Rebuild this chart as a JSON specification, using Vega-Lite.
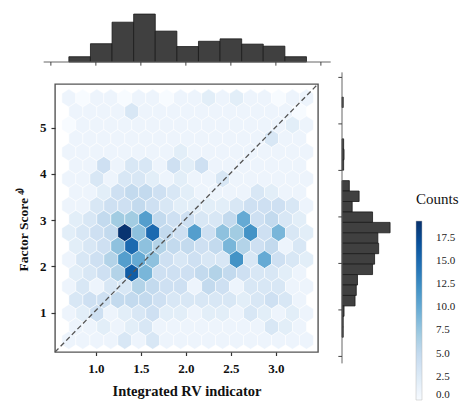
{
"$schema": "https://vega.github.io/schema/vega-lite/v6.json",
"autosize": {"type": "pad"},
"padding": {"left": 15, "top": 10, "right": 2, "bottom": 2},
"background": "white",
"config": {
  "view": {"stroke": null},
  "font": "Liberation Serif",
  "axis": {"labelFont": "Liberation Serif", "titleFont": "Liberation Serif", "labelFontWeight": "bold", "titleFontWeight": "bold", "labelColor": "#111", "titleColor": "#111", "grid": false, "domain": false, "tickColor": "#333", "tickWidth": 1.2},
  "legend": {"padding": 0}
},
"datasets": {
  "hex": [
    {"x":0.700,"y":5.643,"c":1},{"x":0.855,"y":5.643,"c":0},{"x":1.011,"y":5.643,"c":1},{"x":1.166,"y":5.643,"c":1},{"x":1.321,"y":5.643,"c":0},{"x":1.476,"y":5.643,"c":1},{"x":1.632,"y":5.643,"c":1},{"x":1.787,"y":5.643,"c":0},{"x":1.942,"y":5.643,"c":1},{"x":2.098,"y":5.643,"c":1},{"x":2.253,"y":5.643,"c":2},{"x":2.408,"y":5.643,"c":1},{"x":2.563,"y":5.643,"c":2},{"x":2.719,"y":5.643,"c":1},{"x":2.874,"y":5.643,"c":1},{"x":3.029,"y":5.643,"c":0},{"x":3.185,"y":5.643,"c":1},{"x":3.340,"y":5.643,"c":1},
    {"x":0.778,"y":5.352,"c":1},{"x":0.933,"y":5.352,"c":1},{"x":1.088,"y":5.352,"c":1},{"x":1.244,"y":5.352,"c":1},{"x":1.399,"y":5.352,"c":3},{"x":1.554,"y":5.352,"c":1},{"x":1.709,"y":5.352,"c":1},{"x":1.865,"y":5.352,"c":1},{"x":2.020,"y":5.352,"c":1},{"x":2.175,"y":5.352,"c":1},{"x":2.331,"y":5.352,"c":1},{"x":2.486,"y":5.352,"c":1},{"x":2.641,"y":5.352,"c":1},{"x":2.796,"y":5.352,"c":1},{"x":2.952,"y":5.352,"c":1},{"x":3.107,"y":5.352,"c":1},{"x":3.262,"y":5.352,"c":0},
    {"x":0.700,"y":5.060,"c":0},{"x":0.855,"y":5.060,"c":1},{"x":1.011,"y":5.060,"c":1},{"x":1.166,"y":5.060,"c":1},{"x":1.321,"y":5.060,"c":1},{"x":1.476,"y":5.060,"c":1},{"x":1.632,"y":5.060,"c":1},{"x":1.787,"y":5.060,"c":1},{"x":1.942,"y":5.060,"c":1},{"x":2.098,"y":5.060,"c":1},{"x":2.253,"y":5.060,"c":1},{"x":2.408,"y":5.060,"c":1},{"x":2.563,"y":5.060,"c":1},{"x":2.719,"y":5.060,"c":1},{"x":2.874,"y":5.060,"c":1},{"x":3.029,"y":5.060,"c":1},{"x":3.185,"y":5.060,"c":2},{"x":3.340,"y":5.060,"c":1},
    {"x":0.778,"y":4.769,"c":1},{"x":0.933,"y":4.769,"c":1},{"x":1.088,"y":4.769,"c":1},{"x":1.244,"y":4.769,"c":1},{"x":1.399,"y":4.769,"c":1},{"x":1.554,"y":4.769,"c":1},{"x":1.709,"y":4.769,"c":1},{"x":1.865,"y":4.769,"c":1},{"x":2.020,"y":4.769,"c":1},{"x":2.175,"y":4.769,"c":1},{"x":2.331,"y":4.769,"c":1},{"x":2.486,"y":4.769,"c":1},{"x":2.641,"y":4.769,"c":1},{"x":2.796,"y":4.769,"c":1},{"x":2.952,"y":4.769,"c":3},{"x":3.107,"y":4.769,"c":1},{"x":3.262,"y":4.769,"c":1},
    {"x":0.700,"y":4.478,"c":1},{"x":0.855,"y":4.478,"c":1},{"x":1.011,"y":4.478,"c":1},{"x":1.166,"y":4.478,"c":1},{"x":1.321,"y":4.478,"c":1},{"x":1.476,"y":4.478,"c":1},{"x":1.632,"y":4.478,"c":1},{"x":1.787,"y":4.478,"c":1},{"x":1.942,"y":4.478,"c":2},{"x":2.098,"y":4.478,"c":1},{"x":2.253,"y":4.478,"c":1},{"x":2.408,"y":4.478,"c":1},{"x":2.563,"y":4.478,"c":1},{"x":2.719,"y":4.478,"c":1},{"x":2.874,"y":4.478,"c":1},{"x":3.029,"y":4.478,"c":1},{"x":3.185,"y":4.478,"c":1},{"x":3.340,"y":4.478,"c":1},
    {"x":0.778,"y":4.186,"c":1},{"x":0.933,"y":4.186,"c":1},{"x":1.088,"y":4.186,"c":4},{"x":1.244,"y":4.186,"c":1},{"x":1.399,"y":4.186,"c":3},{"x":1.554,"y":4.186,"c":3},{"x":1.709,"y":4.186,"c":1},{"x":1.865,"y":4.186,"c":4},{"x":2.020,"y":4.186,"c":2},{"x":2.175,"y":4.186,"c":4},{"x":2.331,"y":4.186,"c":1},{"x":2.486,"y":4.186,"c":1},{"x":2.641,"y":4.186,"c":1},{"x":2.796,"y":4.186,"c":1},{"x":2.952,"y":4.186,"c":1},{"x":3.107,"y":4.186,"c":1},{"x":3.262,"y":4.186,"c":1},
    {"x":0.700,"y":3.895,"c":1},{"x":0.855,"y":3.895,"c":1},{"x":1.011,"y":3.895,"c":3},{"x":1.166,"y":3.895,"c":1},{"x":1.321,"y":3.895,"c":3},{"x":1.476,"y":3.895,"c":3},{"x":1.632,"y":3.895,"c":2},{"x":1.787,"y":3.895,"c":1},{"x":1.942,"y":3.895,"c":2},{"x":2.098,"y":3.895,"c":1},{"x":2.253,"y":3.895,"c":1},{"x":2.408,"y":3.895,"c":3},{"x":2.563,"y":3.895,"c":1},{"x":2.719,"y":3.895,"c":1},{"x":2.874,"y":3.895,"c":1},{"x":3.029,"y":3.895,"c":1},{"x":3.185,"y":3.895,"c":1},{"x":3.340,"y":3.895,"c":1},
    {"x":0.778,"y":3.604,"c":1},{"x":0.933,"y":3.604,"c":1},{"x":1.088,"y":3.604,"c":2},{"x":1.244,"y":3.604,"c":4},{"x":1.399,"y":3.604,"c":5},{"x":1.554,"y":3.604,"c":5},{"x":1.709,"y":3.604,"c":4},{"x":1.865,"y":3.604,"c":3},{"x":2.020,"y":3.604,"c":2},{"x":2.175,"y":3.604,"c":1},{"x":2.331,"y":3.604,"c":1},{"x":2.486,"y":3.604,"c":1},{"x":2.641,"y":3.604,"c":1},{"x":2.796,"y":3.604,"c":3},{"x":2.952,"y":3.604,"c":2},{"x":3.107,"y":3.604,"c":1},{"x":3.262,"y":3.604,"c":1},
    {"x":0.700,"y":3.313,"c":1},{"x":0.855,"y":3.313,"c":1},{"x":1.011,"y":3.313,"c":3},{"x":1.166,"y":3.313,"c":4},{"x":1.321,"y":3.313,"c":4},{"x":1.476,"y":3.313,"c":5},{"x":1.632,"y":3.313,"c":4},{"x":1.787,"y":3.313,"c":3},{"x":1.942,"y":3.313,"c":2},{"x":2.098,"y":3.313,"c":2},{"x":2.253,"y":3.313,"c":2},{"x":2.408,"y":3.313,"c":2},{"x":2.563,"y":3.313,"c":3},{"x":2.719,"y":3.313,"c":4},{"x":2.874,"y":3.313,"c":4},{"x":3.029,"y":3.313,"c":4},{"x":3.185,"y":3.313,"c":3},{"x":3.340,"y":3.313,"c":1},
    {"x":0.778,"y":3.021,"c":2},{"x":0.933,"y":3.021,"c":3},{"x":1.088,"y":3.021,"c":5},{"x":1.244,"y":3.021,"c":7},{"x":1.399,"y":3.021,"c":7},{"x":1.554,"y":3.021,"c":11},{"x":1.709,"y":3.021,"c":5},{"x":1.865,"y":3.021,"c":4},{"x":2.020,"y":3.021,"c":4},{"x":2.175,"y":3.021,"c":3},{"x":2.331,"y":3.021,"c":3},{"x":2.486,"y":3.021,"c":5},{"x":2.641,"y":3.021,"c":10},{"x":2.796,"y":3.021,"c":4},{"x":2.952,"y":3.021,"c":5},{"x":3.107,"y":3.021,"c":3},{"x":3.262,"y":3.021,"c":2},
    {"x":0.700,"y":2.730,"c":2},{"x":0.855,"y":2.730,"c":3},{"x":1.011,"y":2.730,"c":4},{"x":1.166,"y":2.730,"c":5},{"x":1.321,"y":2.730,"c":19},{"x":1.476,"y":2.730,"c":8},{"x":1.632,"y":2.730,"c":15},{"x":1.787,"y":2.730,"c":5},{"x":1.942,"y":2.730,"c":4},{"x":2.098,"y":2.730,"c":11},{"x":2.253,"y":2.730,"c":4},{"x":2.408,"y":2.730,"c":8},{"x":2.563,"y":2.730,"c":7},{"x":2.719,"y":2.730,"c":12},{"x":2.874,"y":2.730,"c":4},{"x":3.029,"y":2.730,"c":9},{"x":3.185,"y":2.730,"c":3},{"x":3.340,"y":2.730,"c":2},
    {"x":0.778,"y":2.439,"c":2},{"x":0.933,"y":2.439,"c":3},{"x":1.088,"y":2.439,"c":4},{"x":1.244,"y":2.439,"c":8},{"x":1.399,"y":2.439,"c":15},{"x":1.554,"y":2.439,"c":8},{"x":1.709,"y":2.439,"c":6},{"x":1.865,"y":2.439,"c":5},{"x":2.020,"y":2.439,"c":5},{"x":2.175,"y":2.439,"c":4},{"x":2.331,"y":2.439,"c":5},{"x":2.486,"y":2.439,"c":9},{"x":2.641,"y":2.439,"c":6},{"x":2.796,"y":2.439,"c":4},{"x":2.952,"y":2.439,"c":5},{"x":3.107,"y":2.439,"c":1},{"x":3.262,"y":2.439,"c":3},
    {"x":0.700,"y":2.148,"c":1},{"x":0.855,"y":2.148,"c":3},{"x":1.011,"y":2.148,"c":4},{"x":1.166,"y":2.148,"c":6},{"x":1.321,"y":2.148,"c":11},{"x":1.476,"y":2.148,"c":10},{"x":1.632,"y":2.148,"c":8},{"x":1.787,"y":2.148,"c":4},{"x":1.942,"y":2.148,"c":3},{"x":2.098,"y":2.148,"c":4},{"x":2.253,"y":2.148,"c":3},{"x":2.408,"y":2.148,"c":3},{"x":2.563,"y":2.148,"c":12},{"x":2.719,"y":2.148,"c":3},{"x":2.874,"y":2.148,"c":10},{"x":3.029,"y":2.148,"c":4},{"x":3.185,"y":2.148,"c":3},{"x":3.340,"y":2.148,"c":2},
    {"x":0.778,"y":1.856,"c":2},{"x":0.933,"y":1.856,"c":3},{"x":1.088,"y":1.856,"c":4},{"x":1.244,"y":1.856,"c":6},{"x":1.399,"y":1.856,"c":16},{"x":1.554,"y":1.856,"c":9},{"x":1.709,"y":1.856,"c":4},{"x":1.865,"y":1.856,"c":4},{"x":2.020,"y":1.856,"c":4},{"x":2.175,"y":1.856,"c":5},{"x":2.331,"y":1.856,"c":6},{"x":2.486,"y":1.856,"c":5},{"x":2.641,"y":1.856,"c":4},{"x":2.796,"y":1.856,"c":3},{"x":2.952,"y":1.856,"c":3},{"x":3.107,"y":1.856,"c":2},{"x":3.262,"y":1.856,"c":1},
    {"x":0.700,"y":1.565,"c":1},{"x":0.855,"y":1.565,"c":3},{"x":1.011,"y":1.565,"c":1},{"x":1.166,"y":1.565,"c":3},{"x":1.321,"y":1.565,"c":3},{"x":1.476,"y":1.565,"c":6},{"x":1.632,"y":1.565,"c":5},{"x":1.787,"y":1.565,"c":4},{"x":1.942,"y":1.565,"c":4},{"x":2.098,"y":1.565,"c":1},{"x":2.253,"y":1.565,"c":5},{"x":2.408,"y":1.565,"c":4},{"x":2.563,"y":1.565,"c":1},{"x":2.719,"y":1.565,"c":3},{"x":2.874,"y":1.565,"c":3},{"x":3.029,"y":1.565,"c":3},{"x":3.185,"y":1.565,"c":1},{"x":3.340,"y":1.565,"c":1},
    {"x":0.778,"y":1.274,"c":3},{"x":0.933,"y":1.274,"c":4},{"x":1.088,"y":1.274,"c":4},{"x":1.244,"y":1.274,"c":5},{"x":1.399,"y":1.274,"c":5},{"x":1.554,"y":1.274,"c":5},{"x":1.709,"y":1.274,"c":4},{"x":1.865,"y":1.274,"c":3},{"x":2.020,"y":1.274,"c":3},{"x":2.175,"y":1.274,"c":3},{"x":2.331,"y":1.274,"c":3},{"x":2.486,"y":1.274,"c":3},{"x":2.641,"y":1.274,"c":2},{"x":2.796,"y":1.274,"c":3},{"x":2.952,"y":1.274,"c":4},{"x":3.107,"y":1.274,"c":3},{"x":3.262,"y":1.274,"c":1},
    {"x":0.700,"y":0.983,"c":1},{"x":0.855,"y":0.983,"c":2},{"x":1.011,"y":0.983,"c":4},{"x":1.166,"y":0.983,"c":1},{"x":1.321,"y":0.983,"c":2},{"x":1.476,"y":0.983,"c":3},{"x":1.632,"y":0.983,"c":4},{"x":1.787,"y":0.983,"c":2},{"x":1.942,"y":0.983,"c":2},{"x":2.098,"y":0.983,"c":1},{"x":2.253,"y":0.983,"c":2},{"x":2.408,"y":0.983,"c":2},{"x":2.563,"y":0.983,"c":1},{"x":2.719,"y":0.983,"c":3},{"x":2.874,"y":0.983,"c":2},{"x":3.029,"y":0.983,"c":1},{"x":3.185,"y":0.983,"c":2},{"x":3.340,"y":0.983,"c":1},
    {"x":0.778,"y":0.691,"c":1},{"x":0.933,"y":0.691,"c":1},{"x":1.088,"y":0.691,"c":2},{"x":1.244,"y":0.691,"c":1},{"x":1.399,"y":0.691,"c":2},{"x":1.554,"y":0.691,"c":3},{"x":1.709,"y":0.691,"c":1},{"x":1.865,"y":0.691,"c":1},{"x":2.020,"y":0.691,"c":1},{"x":2.175,"y":0.691,"c":1},{"x":2.331,"y":0.691,"c":1},{"x":2.486,"y":0.691,"c":1},{"x":2.641,"y":0.691,"c":1},{"x":2.796,"y":0.691,"c":1},{"x":2.952,"y":0.691,"c":3},{"x":3.107,"y":0.691,"c":2},{"x":3.262,"y":0.691,"c":1},
    {"x":0.700,"y":0.400,"c":1},{"x":0.855,"y":0.400,"c":1},{"x":1.011,"y":0.400,"c":1},{"x":1.166,"y":0.400,"c":1},{"x":1.321,"y":0.400,"c":3},{"x":1.476,"y":0.400,"c":1},{"x":1.632,"y":0.400,"c":3},{"x":1.787,"y":0.400,"c":1},{"x":1.942,"y":0.400,"c":1},{"x":2.098,"y":0.400,"c":1},{"x":2.253,"y":0.400,"c":1},{"x":2.408,"y":0.400,"c":1},{"x":2.563,"y":0.400,"c":1},{"x":2.719,"y":0.400,"c":1},{"x":2.874,"y":0.400,"c":1},{"x":3.029,"y":0.400,"c":1},{"x":3.185,"y":0.400,"c":1},{"x":3.340,"y":0.400,"c":1}
  ],
  "top": [
    {"x0":0.70,"x1":0.94,"n":13},{"x0":0.94,"x1":1.18,"n":45},{"x0":1.18,"x1":1.42,"n":98},{"x0":1.42,"x1":1.66,"n":118},{"x0":1.66,"x1":1.90,"n":76},{"x0":1.90,"x1":2.14,"n":38},{"x0":2.14,"x1":2.38,"n":51},{"x0":2.38,"x1":2.62,"n":57},{"x0":2.62,"x1":2.86,"n":44},{"x0":2.86,"x1":3.10,"n":39},{"x0":3.10,"x1":3.34,"n":13}
  ],
  "right": [
    {"y0":5.352,"y1":5.576,"n":3},{"y0":4.454,"y1":4.678,"n":4},{"y0":4.229,"y1":4.454,"n":5},{"y0":4.005,"y1":4.229,"n":4},
    {"y0":3.556,"y1":3.780,"n":18},{"y0":3.331,"y1":3.556,"n":42},{"y0":3.107,"y1":3.331,"n":25},{"y0":2.882,"y1":3.107,"n":75},{"y0":2.658,"y1":2.882,"n":118},{"y0":2.433,"y1":2.658,"n":88},{"y0":2.209,"y1":2.433,"n":90},{"y0":1.984,"y1":2.209,"n":80},{"y0":1.760,"y1":1.984,"n":75},{"y0":1.535,"y1":1.760,"n":38},{"y0":1.311,"y1":1.535,"n":35},{"y0":1.086,"y1":1.311,"n":32},{"y0":0.862,"y1":1.086,"n":5},{"y0":0.637,"y1":0.862,"n":3},{"y0":0.412,"y1":0.637,"n":3}
  ],
  "ticksTop": [{"t":0.5},{"t":1.0},{"t":1.5},{"t":2.0},{"t":2.5},{"t":3.0},{"t":3.5}],
  "ticksRight": [{"t":0},{"t":1},{"t":2},{"t":3},{"t":4},{"t":5},{"t":6}],
  "diag": [{"x":0.546,"y":0.147},{"x":3.468,"y":5.948}]
},
"spacing": 4,
"resolve": {"scale": {"color": "shared"}, "legend": {"color": "shared"}},
"vconcat": [
  {
    "width": 263, "height": 52,
    "layer": [
      {"data": {"name": "top"},
       "mark": {"type": "rect", "fill": "#404040", "stroke": "#1a1a1a", "strokeWidth": 0.8},
       "encoding": {
         "x": {"field": "x0", "type": "quantitative", "scale": {"domain": [0.546, 3.468], "nice": false, "zero": false}, "axis": null},
         "x2": {"field": "x1"},
         "y": {"field": "n", "type": "quantitative", "scale": {"domain": [0, 128], "nice": false}, "axis": null},
         "y2": {"datum": 0}
       }},
      {"data": {"values": [{"a": 0.42, "b": 3.609}]},
       "mark": {"type": "rule", "color": "#666", "strokeWidth": 1},
       "encoding": {"x": {"field": "a", "type": "quantitative"}, "x2": {"field": "b"}, "y": {"datum": 0}}},
      {"data": {"name": "ticksTop"},
       "mark": {"type": "rule", "color": "#444", "strokeWidth": 1},
       "encoding": {"x": {"field": "t", "type": "quantitative"}, "y": {"datum": 0}, "y2": {"datum": -9}}}
    ]
  },
  {
    "spacing": 15,
    "resolve": {"scale": {"color": "shared"}, "legend": {"color": "shared"}},
    "hconcat": [
      {
        "width": 263, "height": 268,
        "view": {"stroke": "#555", "strokeWidth": 1.4},
        "layer": [
          {"data": {"name": "hex"},
           "mark": {"type": "point", "shape": "M0,-1L0.779,-0.5L0.779,0.5L0,1L-0.779,0.5L-0.779,-0.5Z", "size": 322, "filled": true, "opacity": 1, "stroke": "#ffffff", "strokeWidth": 0.5},
           "encoding": {
             "x": {"field": "x", "type": "quantitative", "scale": {"domain": [0.546, 3.468], "nice": false, "zero": false},
                   "axis": {"title": "Integrated RV indicator", "values": [1, 1.5, 2, 2.5, 3], "format": ".1f", "labelFontSize": 13, "titleFontSize": 14.5, "tickSize": 3.5, "labelPadding": 7, "titlePadding": 9}},
             "y": {"field": "y", "type": "quantitative", "scale": {"domain": [0.147, 5.948], "nice": false, "zero": false},
                   "axis": {"title": "Factor Score ⁴⁾", "values": [1, 2, 3, 4, 5], "format": "d", "labelFontSize": 13, "titleFontSize": 13.5, "tickSize": 4, "labelPadding": 5, "titleAngle": 270, "titleBaseline": "alphabetic", "titleAlign": "center", "titleX": -28, "titleY": 145}},
             "color": {"field": "c", "type": "quantitative",
                       "scale": {"domain": [0, 2.4125, 4.825, 7.2375, 9.65, 12.0625, 14.475, 16.8875, 19.3], "range": ["#f7fbff", "#deebf7", "#c6dbef", "#9ecae1", "#6baed6", "#4292c6", "#2171b5", "#08519c", "#08306b"], "interpolate": "rgb"},
                       "legend": {"title": "Counts", "orient": "none", "legendX": 361, "legendY": 182, "direction": "vertical", "gradientLength": 179, "gradientThickness": 6, "values": [0, 2.5, 5, 7.5, 10, 12.5, 15, 17.5], "format": ".1f", "labelFont": "Liberation Serif", "labelFontSize": 11, "labelColor": "#222", "labelOffset": 14, "titleFont": "Liberation Serif", "titleFontSize": 15, "titleFontWeight": "normal", "titleColor": "#111", "titlePadding": 14, "gradientStrokeColor": "#bbb", "gradientStrokeWidth": 0.5}}
           }},
          {"data": {"name": "diag"},
           "mark": {"type": "line", "color": "#555", "strokeDash": [5, 3], "strokeWidth": 1.3},
           "encoding": {"x": {"field": "x", "type": "quantitative"}, "y": {"field": "y", "type": "quantitative"}}}
        ]
      },
      {
        "width": 55, "height": 268,
        "layer": [
          {"data": {"name": "right"},
           "mark": {"type": "rect", "fill": "#404040", "stroke": "#1a1a1a", "strokeWidth": 0.8},
           "encoding": {
             "y": {"field": "y0", "type": "quantitative", "scale": {"domain": [0.095, 5.858], "nice": false, "zero": false}, "axis": null},
             "y2": {"field": "y1"},
             "x": {"field": "n", "type": "quantitative", "scale": {"domain": [0, 135], "nice": false}, "axis": null},
             "x2": {"datum": 0}
           }},
          {"data": {"values": [{"a": -0.15, "b": 6.108}]},
           "mark": {"type": "rule", "color": "#666", "strokeWidth": 1},
           "encoding": {"y": {"field": "a", "type": "quantitative"}, "y2": {"field": "b"}, "x": {"datum": 0}}},
          {"data": {"name": "ticksRight"},
           "mark": {"type": "rule", "color": "#444", "strokeWidth": 1},
           "encoding": {"y": {"field": "t", "type": "quantitative"}, "x": {"datum": 0}, "x2": {"datum": -9}}}
        ]
      }
    ]
  }
]
}
